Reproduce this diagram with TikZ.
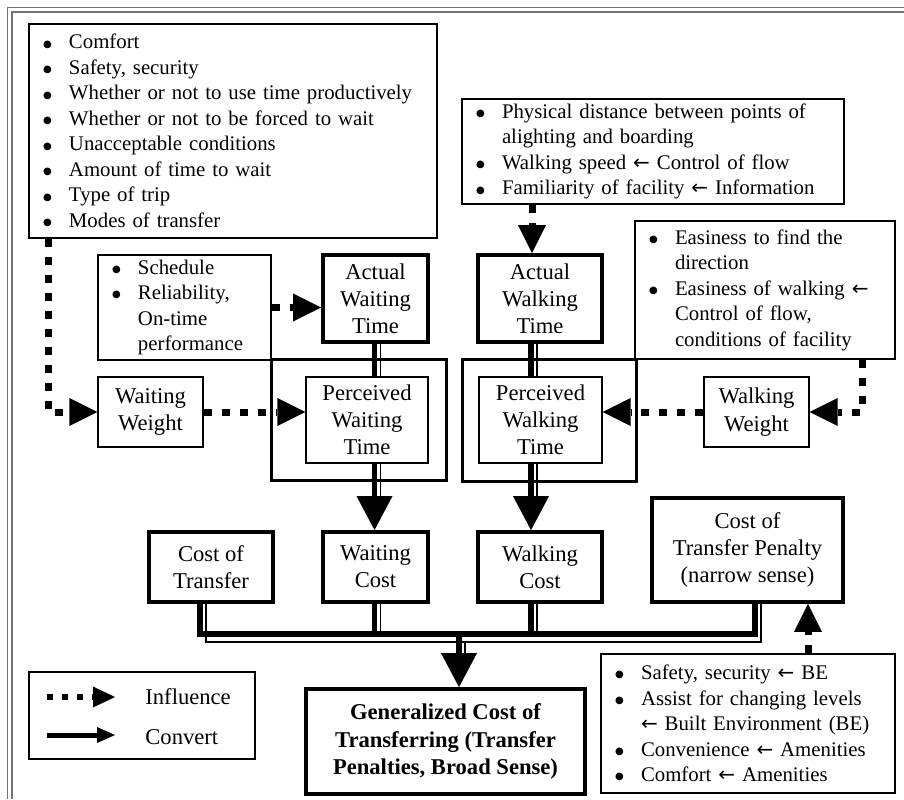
\documentclass[tikz,border=0pt]{standalone}
\usepackage{fontspec}
\setmainfont{Liberation Serif}
\newfontfamily\symfont{DejaVu Sans}
\usetikzlibrary{arrows.meta,calc}
\newcommand\listfont{\fontsize{10.4}{12.75}\selectfont}
\newcommand\boxfont{\fontsize{11.3}{13.6}\selectfont}
\newcommand\itm{\makebox[13pt][l]{\raisebox{0.9pt}{\symfont\fontsize{5}{0}\selectfont ●}}}
\newcommand\cnt{\hspace*{13pt}}
\newcommand\la{{\symfont\fontsize{10}{0}\selectfont ←}}
\begin{document}
\begin{tikzpicture}[x=0.5pt,y=-0.5pt,
  thinbox/.style={draw, line width=0.7pt, inner sep=0pt, align=center, font=\boxfont},
  thickbox/.style={draw, line width=1.9pt, inner sep=0pt, align=center, font=\boxfont},
  outerbox/.style={draw, line width=1.5pt, inner sep=0pt},
  listbox/.style={draw, line width=0.7pt, inner xsep=7pt, inner ysep=0pt, align=left, font=\listfont},
  infl/.style={line width=3.5pt, dash pattern=on 4pt off 5pt, -{Triangle[length=14pt,width=14pt,line width=0pt]}},
  cthick/.style={line width=2.6pt},
  cthin/.style={line width=0.8pt},
  chead/.style={-{Triangle[length=17pt,width=18pt,line width=0pt]}},
  legin/.style={line width=3pt, dash pattern=on 3pt off 4.5pt, -{Triangle[length=11pt,width=10.5pt,line width=0pt]}},
  legcv/.style={line width=2.5pt, -{Triangle[length=9pt,width=8pt,line width=0pt]}},
  frame/.style={line width=0.9pt, draw=black!55, double=white, double distance=1.2pt}
]
\useasboundingbox (0,0) rectangle (904,799);
\draw[frame] (9.5,799) -- (9.5,9.5) -- (904,9.5);

% coordinates for connector routing
\coordinate (xa) at (48,0);
\coordinate (xwb) at (532,0);
\coordinate (xc) at (862,0);
\coordinate (xe) at (808,0);
\coordinate (xwt) at (374.5,0);
\coordinate (xwt2) at (380.5,0);
\coordinate (xw) at (531,0);
\coordinate (xw2) at (537,0);
\coordinate (bl) at (200,634);
\coordinate (br) at (755,634);
\coordinate (bl2) at (206,642);
\coordinate (br2) at (761,642);
\coordinate (bm) at (459,634);
\coordinate (bm2) at (465,642);

% list boxes
\node[listbox, minimum width=204pt, text width=190pt, minimum height=107pt] (A) at (233,131)
 {\itm Comfort\\ \itm Safety, security\\ \itm Whether or not to use time productively\\ \itm Whether or not to be forced to wait\\ \itm Unacceptable conditions\\ \itm Amount of time to wait\\ \itm Type of trip\\ \itm Modes of transfer};
\node[listbox, minimum width=191pt, text width=177pt, minimum height=52.5pt] (B) at (653,151.5)
 {\itm Physical distance between points of\\ \cnt alighting and boarding\\ \itm Walking speed \la{} Control of flow\\ \itm Familiarity of facility \la{} Information};
\node[listbox, minimum width=130pt, text width=116pt, minimum height=69pt] (C) at (765,290)
 {\itm Easiness to find the\\ \cnt direction\\ \itm Easiness of walking \la\\ \cnt Control of flow,\\ \cnt conditions of facility};
\node[listbox, minimum width=86.5pt, text width=72.5pt, minimum height=52.5pt] (D) at (184.5,307.5)
 {\itm Schedule\\ \itm Reliability,\\ \cnt On-time\\ \cnt performance};
\node[listbox, minimum width=147pt, text width=133pt, minimum height=69.5pt] (E) at (748,723.5)
 {\itm Safety, security \la{} BE\\ \itm Assist for changing levels\\ \cnt \la{} Built Environment (BE)\\ \itm Convenience \la{} Amenities\\ \itm Comfort \la{} Amenities};

% main boxes
\node[thickbox, minimum width=52.5pt, minimum height=43.5pt] (awt) at (375.5,298.5) {Actual\\Waiting\\Time};
\node[outerbox, minimum width=87.5pt, minimum height=60.5pt] (pwo) at (358.5,419.5) {};
\node[thinbox, minimum width=61pt, minimum height=43pt] (pwi) at (367,420) {Perceived\\Waiting\\Time};
\node[thinbox, minimum width=52.5pt, minimum height=35pt] (ww) at (150.5,412) {Waiting\\Weight};
\node[thickbox, minimum width=62pt, minimum height=43.5pt] (akt) at (540,298.5) {Actual\\Walking\\Time};
\node[outerbox, minimum width=87pt, minimum height=61pt] (pko) at (549,420) {};
\node[thinbox, minimum width=61.5pt, minimum height=43pt] (pki) at (540.5,420) {Perceived\\Walking\\Time};
\node[thinbox, minimum width=52.5pt, minimum height=35pt] (kw) at (756.5,412) {Walking\\Weight};
\node[thickbox, minimum width=62pt, minimum height=35pt] (ct) at (211,567) {Cost of\\Transfer};
\node[thickbox, minimum width=52.5pt, minimum height=35pt] (wc) at (375.5,567) {Waiting\\Cost};
\node[thickbox, minimum width=62pt, minimum height=35pt] (kc) at (540,567) {Walking\\Cost};
\node[thickbox, minimum width=95.5pt, minimum height=52pt] (ctp) at (747.5,550) {Cost of\\Transfer Penalty\\(narrow sense)};
\node[thickbox, minimum width=139.5pt, minimum height=52.5pt, font=\boxfont\bfseries] (gc) at (445.5,741.5) {Generalized Cost of\\Transferring (Transfer\\Penalties, Broad Sense)};

% influence connectors
\draw[infl] (A.south -| xa) |- (ww.west);
\draw[infl] (ww.east) -- (ww.east -| pwi.west);
\draw[infl] (D.east) -- (D.east -| awt.west);
\draw[infl] (B.south -| xwb) -- (akt.north -| xwb);
\draw[infl] (C.south -| xc) |- (kw.east);
\draw[infl] (kw.west) -- (kw.west -| pki.east);
\draw[infl] (E.north -| xe) -- (ctp.south -| xe);

% convert connectors
\draw[cthin] (awt.south -| xwt2) -- (pwi.north -| xwt2);
\draw[cthick] (awt.south -| xwt) -- (pwi.north -| xwt);
\draw[cthin] (pwi.south -| xwt2) -- ($(wc.north -| xwt2)+(0,-34)$);
\draw[cthick, chead] (pwi.south -| xwt) -- (wc.north -| xwt);
\draw[cthin] (akt.south -| xw2) -- (pki.north -| xw2);
\draw[cthick] (akt.south -| xw) -- (pki.north -| xw);
\draw[cthin] (pki.south -| xw2) -- ($(kc.north -| xw2)+(0,-34)$);
\draw[cthick, chead] (pki.south -| xw) -- (kc.north -| xw);

\draw[cthin] (ct.south -| bl2) -- (bl2) -- (br2) -- (ctp.south -| br2);
\draw[cthin] (wc.south -| xwt2) -- (xwt2 |- bl);
\draw[cthin] (kc.south -| xw2) -- (xw2 |- bl);
\draw[cthin] (bm2) -- ($(gc.north -| bm2)+(0,-34)$);
\draw[cthick] (ct.south -| bl) -- (bl) -- (br) -- (ctp.south -| br);
\draw[cthick] (wc.south -| xwt) -- (xwt |- bl);
\draw[cthick] (kc.south -| xw) -- (xw |- bl);
\draw[cthick, chead] (bm) -- (gc.north -| bm);

% legend
\node[thinbox, minimum width=113pt, minimum height=43.5pt] (leg) at (142,715.5) {};
\coordinate (li1) at (47,697);
\coordinate (li2) at (115,697);
\coordinate (lc1) at (47,735);
\coordinate (lc2) at (115,735);
\draw[legin] (li1) -- (li2);
\draw[legcv] (lc1) -- (lc2);
\node[anchor=west, inner sep=0pt, font=\boxfont] (lt1) at (145,697) {Influence};
\node[anchor=west, inner sep=0pt, font=\boxfont] (lt2) at (145,737) {Convert};
\end{tikzpicture}
\end{document}
